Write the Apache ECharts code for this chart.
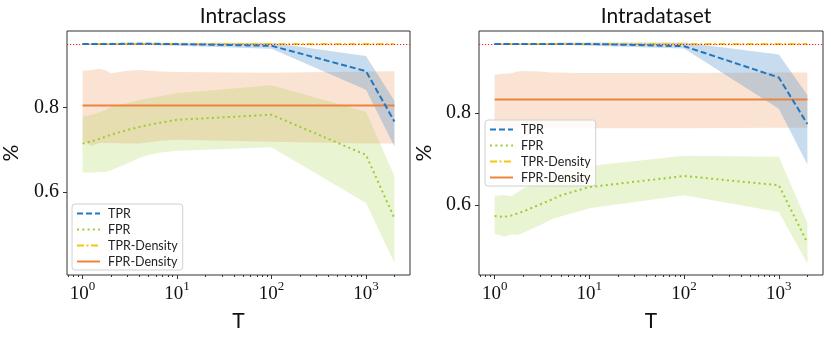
<!DOCTYPE html>
<html>
<head>
<meta charset="utf-8">
<script src="https://cdn.jsdelivr.net/npm/echarts@6/dist/echarts.min.js"></script>
<style>
html, body { margin: 0; padding: 0; background: #fff; }
#main { width: 831px; height: 337px; }
</style>
</head>
<body>
<div id="main"></div>
<script>
// T values (x, log scale)
var T = [1, 1.25, 1.5, 1.75, 2, 3, 4, 5, 7, 10, 100, 1000, 2000];
var majorTicks = [1, 10, 100, 1000];
var minorTicks = [0.7, 0.8, 0.9, 2, 3, 4, 5, 6, 7, 8, 9, 20, 30, 40, 50, 60, 70, 80, 90,
    200, 300, 400, 500, 600, 700, 800, 900, 2000];
var yTicks = [0.6, 0.8];
var refLine = 0.95;

// Intraclass
var tprL   = [0.950, 0.950, 0.950, 0.950, 0.950, 0.951, 0.951, 0.951, 0.950, 0.950, 0.946, 0.886, 0.767];
var tprHiL = [0.952, 0.952, 0.952, 0.952, 0.953, 0.953, 0.953, 0.953, 0.953, 0.953, 0.953, 0.922, 0.816];
var tprLoL = [0.948, 0.948, 0.948, 0.948, 0.948, 0.948, 0.948, 0.948, 0.947, 0.946, 0.939, 0.842, 0.708];
var fprL   = [0.715, 0.720, 0.726, 0.731, 0.736, 0.747, 0.754, 0.759, 0.765, 0.771, 0.783, 0.688, 0.538];
var fprHiL = [0.779, 0.783, 0.788, 0.794, 0.801, 0.811, 0.818, 0.822, 0.828, 0.834, 0.853, 0.790, 0.638];
var fprLoL = [0.647, 0.646, 0.648, 0.647, 0.652, 0.668, 0.681, 0.688, 0.694, 0.698, 0.706, 0.574, 0.433];
var tprDL  = [0.95, 0.95, 0.95, 0.95, 0.95, 0.95, 0.95, 0.95, 0.95, 0.95, 0.95, 0.95, 0.95];
var fprDL  = [0.805, 0.805, 0.805, 0.805, 0.805, 0.805, 0.805, 0.805, 0.805, 0.805, 0.805, 0.805, 0.805];
var fprDHiL = [0.887, 0.889, 0.892, 0.888, 0.881, 0.887, 0.889, 0.887, 0.885, 0.884, 0.882, 0.885, 0.886];
var fprDLoL = [0.721, 0.709, 0.716, 0.716, 0.716, 0.715, 0.715, 0.718, 0.722, 0.724, 0.719, 0.715, 0.715];

// Intradataset
var tprR   = [0.950, 0.950, 0.950, 0.950, 0.950, 0.950, 0.950, 0.950, 0.950, 0.950, 0.945, 0.877, 0.776];
var tprHiR = [0.952, 0.952, 0.952, 0.952, 0.952, 0.952, 0.952, 0.953, 0.953, 0.953, 0.953, 0.927, 0.839];
var tprLoR = [0.948, 0.948, 0.948, 0.948, 0.948, 0.948, 0.948, 0.948, 0.947, 0.946, 0.940, 0.809, 0.688];
var fprR   = [0.576, 0.574, 0.577, 0.582, 0.586, 0.601, 0.612, 0.621, 0.630, 0.639, 0.663, 0.643, 0.518];
var fprHiR = [0.620, 0.622, 0.619, 0.628, 0.636, 0.652, 0.661, 0.668, 0.677, 0.685, 0.707, 0.705, 0.561];
var fprLoR = [0.538, 0.531, 0.536, 0.535, 0.540, 0.556, 0.569, 0.575, 0.584, 0.593, 0.621, 0.585, 0.473];
var tprDR  = [0.95, 0.95, 0.95, 0.95, 0.95, 0.95, 0.95, 0.95, 0.95, 0.95, 0.95, 0.95, 0.95];
var fprDR  = [0.829, 0.829, 0.829, 0.829, 0.829, 0.829, 0.829, 0.829, 0.829, 0.829, 0.829, 0.829, 0.829];
var fprDHiR = [0.883, 0.885, 0.886, 0.890, 0.891, 0.890, 0.888, 0.888, 0.887, 0.887, 0.887, 0.888, 0.888];
var fprDLoR = [0.767, 0.767, 0.767, 0.767, 0.767, 0.767, 0.767, 0.767, 0.767, 0.767, 0.767, 0.768, 0.768];

var names = ['TPR', 'FPR', 'TPR-Density', 'FPR-Density'];
var blue = '#1f78c1', green = '#9acd32', yellow = '#f2c80f', orange = '#ec843f';
var serif = 'Liberation Serif';
var sans = 'Lato';

function pairs(arr) {
    return T.map(function (t, i) { return [t, arr[i]]; });
}

// shaded band between lo and hi, drawn as one polygon through the axes' coords
function band(xi, yi, hi, lo, color) {
    return {
        type: 'custom', xAxisIndex: xi, yAxisIndex: yi, silent: true, z: 1,
        data: T.map(function (t, i) { return [t, lo[i], hi[i]]; }),
        encode: { x: 0, y: [1, 2] },
        renderItem: function (params, api) {
            if (params.dataIndex !== 0) return null;
            var pts = [];
            for (var i = 0; i < T.length; i++) pts.push(api.coord([T[i], hi[i]]));
            for (var j = T.length - 1; j >= 0; j--) pts.push(api.coord([T[j], lo[j]]));
            return {
                type: 'polygon',
                shape: { points: pts },
                style: { fill: color, stroke: null }
            };
        }
    };
}

function panel(xi, yi, d) {
    var s = [];
    s.push(band(xi, yi, d.fdHi, d.fdLo, 'rgba(236,128,58,0.22)'));
    s.push(band(xi, yi, d.fHi, d.fLo, 'rgba(154,205,50,0.22)'));
    s.push(band(xi, yi, d.tHi, d.tLo, 'rgba(31,119,193,0.25)'));
    s.push({
        name: 'FPR-Density', type: 'line', xAxisIndex: xi, yAxisIndex: yi, data: pairs(d.fd),
        symbol: 'none', color: orange, lineStyle: { color: orange, width: 2 }, z: 3,
        markLine: {
            silent: true, symbol: 'none', label: { show: false },
            lineStyle: { color: '#ff1a1a', type: [1.2, 1.8], width: 1 },
            data: [{ yAxis: refLine }]
        }
    });
    s.push({
        name: 'TPR-Density', type: 'line', xAxisIndex: xi, yAxisIndex: yi, data: pairs(d.td),
        symbol: 'none', color: yellow, lineStyle: { color: yellow, width: 2, type: [7, 2.5, 2, 2.5] }, z: 4
    });
    s.push({
        name: 'FPR', type: 'line', xAxisIndex: xi, yAxisIndex: yi, data: pairs(d.f),
        symbol: 'none', color: green, lineStyle: { color: green, width: 2, type: [2, 3.3], cap: 'butt' }, z: 4
    });
    s.push({
        name: 'TPR', type: 'line', xAxisIndex: xi, yAxisIndex: yi, data: pairs(d.t),
        symbol: 'none', color: blue, lineStyle: { color: blue, width: 2, type: [6, 3] }, z: 5
    });
    return s;
}

function xMajor(gi) {
    return {
        type: 'log', gridIndex: gi, min: 0.684, max: 2924, position: 'bottom',
        name: 'T', nameLocation: 'middle', nameGap: 36,
        nameTextStyle: { fontFamily: sans, fontSize: 21, color: '#111' },
        axisLine: { show: false },
        splitLine: { show: false },
        axisTick: { show: true, customValues: majorTicks, length: 4, lineStyle: { color: '#333' } },
        axisLabel: {
            customValues: majorTicks, margin: 5,
            formatter: function (v) { return '{b|10}{s|' + Math.round(Math.log10(v)) + '}'; },
            rich: {
                b: { fontFamily: serif, fontSize: 19, color: '#111', verticalAlign: 'bottom', lineHeight: 24 },
                s: { fontFamily: serif, fontSize: 13, color: '#111', verticalAlign: 'top', lineHeight: 24 }
            }
        }
    };
}

function xMinor(gi) {
    return {
        type: 'log', gridIndex: gi, min: 0.684, max: 2924, position: 'bottom',
        axisLine: { show: false }, splitLine: { show: false }, axisLabel: { show: false },
        axisTick: { show: true, customValues: minorTicks, length: 2, lineStyle: { color: '#333' } }
    };
}

function yAxis(gi, min, max, gap) {
    return {
        type: 'value', gridIndex: gi, min: min, max: max,
        name: '%', nameLocation: 'middle', nameGap: gap, nameRotate: 90,
        nameTextStyle: { fontFamily: sans, fontSize: 21, color: '#111' },
        axisLine: { show: false }, splitLine: { show: false },
        axisTick: { show: true, customValues: yTicks, length: 4, lineStyle: { color: '#333' } },
        axisLabel: {
            customValues: yTicks, margin: 8,
            fontFamily: serif, fontSize: 20, color: '#111',
            formatter: function (v) { return v.toFixed(1); }
        }
    };
}

function legend(left, top) {
    return {
        data: names, orient: 'vertical', left: left, top: top,
        itemWidth: 23, itemHeight: 10, itemGap: 3,
        padding: [3, 5, 2, 4], borderColor: '#d0d0d0', borderWidth: 1, borderRadius: 3,
        backgroundColor: 'rgba(255,255,255,0.8)',
        selectedMode: false,
        itemStyle: { opacity: 0 },
        lineStyle: { width: 2 },
        textStyle: { fontFamily: sans, fontSize: 12.5, lineHeight: 13, color: '#222', padding: [0, 0, 0, 3] }
    };
}

var series = []
    .concat(panel(0, 0, {
        t: tprL, tHi: tprHiL, tLo: tprLoL, f: fprL, fHi: fprHiL, fLo: fprLoL,
        td: tprDL, fd: fprDL, fdHi: fprDHiL, fdLo: fprDLoL
    }))
    .concat(panel(2, 1, {
        t: tprR, tHi: tprHiR, tLo: tprLoR, f: fprR, fHi: fprHiR, fLo: fprLoR,
        td: tprDR, fd: fprDR, fdHi: fprDHiR, fdLo: fprDLoR
    }));

var option = {
    animation: false,
    backgroundColor: '#fff',
    title: [
        { text: 'Intraclass', left: 238, top: 1, textAlign: 'center',
          textStyle: { fontFamily: sans, fontSize: 21, fontWeight: 'normal', color: '#111' } },
        { text: 'Intradataset', left: 651, top: 1, textAlign: 'center',
          textStyle: { fontFamily: sans, fontSize: 21, fontWeight: 'normal', color: '#111' } }
    ],
    legend: [legend(72, 204), legend(485, 120)],
    grid: [
        { left: 67, top: 31, width: 343, height: 245, show: true, borderColor: '#333', borderWidth: 1, backgroundColor: 'transparent' },
        { left: 479, top: 31, width: 344, height: 245, show: true, borderColor: '#333', borderWidth: 1, backgroundColor: 'transparent' }
    ],
    xAxis: [xMajor(0), xMinor(0), xMajor(1), xMinor(1)],
    yAxis: [yAxis(0, 0.404, 0.981, 45), yAxis(1, 0.448, 0.978, 44)],
    series: series
};

var myChart = echarts.init(document.getElementById('main'));
myChart.setOption(option);
window.addEventListener('resize', function () {
    myChart.resize();
});
</script>
</body>
</html>
